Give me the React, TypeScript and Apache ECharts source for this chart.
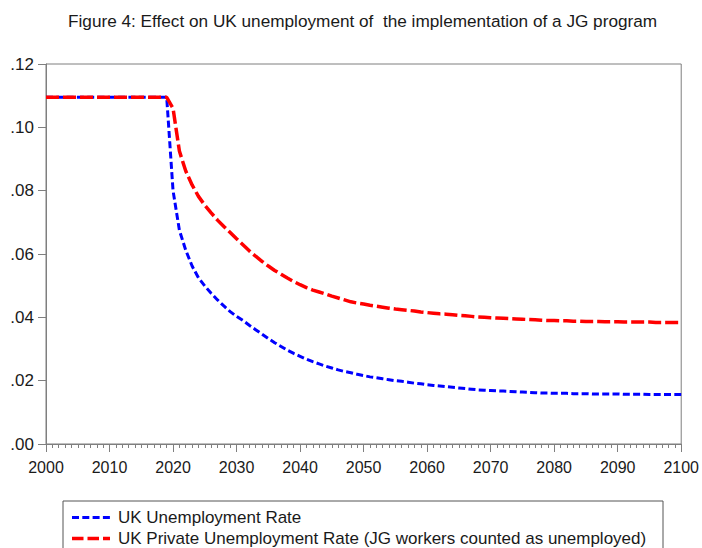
import React, { useEffect, useRef } from "react";
import * as echarts from "echarts";

const TITLE = "Figure 4: Effect on UK unemployment of  the implementation of a JG program";
const SERIES_NAMES = [
  "UK Unemployment Rate",
  "UK Private Unemployment Rate (JG workers counted as unemployed)",
];
const START_YEAR = 2000;

// 2000..2019 flat, then 2020..2100
const ukUnemployment: number[] = [
  0.1095, 0.1095, 0.1095, 0.1095, 0.1095, 0.1095, 0.1095, 0.1095, 0.1095, 0.1095,
  0.1095, 0.1095, 0.1095, 0.1095, 0.1095, 0.1095, 0.1095, 0.1095, 0.1095, 0.1095,
  // 2020-2029
  0.080, 0.0675, 0.0612, 0.0562, 0.0525, 0.0499, 0.0476, 0.0455, 0.0436, 0.0418,
  // 2030-2039
  0.0403, 0.039, 0.0375, 0.0361, 0.0347, 0.0333, 0.032, 0.0308, 0.0296, 0.0286,
  // 2040-2049
  0.0277, 0.0268, 0.026, 0.0253, 0.0246, 0.024, 0.0234, 0.0229, 0.0225, 0.022,
  // 2050-2059
  0.0216, 0.0212, 0.0209, 0.0206, 0.0203, 0.02, 0.0198, 0.0195, 0.0192, 0.019,
  // 2060-2069
  0.0187, 0.0185, 0.0183, 0.0181, 0.0179, 0.0177, 0.0175, 0.0173, 0.0171, 0.017,
  // 2070-2079
  0.0169, 0.0168, 0.0167, 0.0166, 0.0165, 0.0164, 0.0163, 0.0162, 0.0161, 0.0161,
  // 2080-2089
  0.016, 0.016, 0.016, 0.0159, 0.0159, 0.0159, 0.0158, 0.0158, 0.0158, 0.0158,
  // 2090-2100
  0.0158, 0.0157, 0.0157, 0.0157, 0.0157, 0.0156, 0.0156, 0.0156, 0.0156, 0.0156, 0.0156,
];

const ukPrivateUnemployment: number[] = [
  0.1095, 0.1095, 0.1095, 0.1095, 0.1095, 0.1095, 0.1095, 0.1095, 0.1095, 0.1095,
  0.1095, 0.1095, 0.1095, 0.1095, 0.1095, 0.1095, 0.1095, 0.1095, 0.1095, 0.1095,
  // 2020-2029
  0.106, 0.0925, 0.0862, 0.0818, 0.0782, 0.0754, 0.073, 0.0707, 0.0687, 0.0668,
  // 2030-2039
  0.0648, 0.0629, 0.061, 0.0593, 0.0577, 0.0562, 0.0548, 0.0536, 0.0524, 0.0513,
  // 2040-2049
  0.0503, 0.0494, 0.0486, 0.048, 0.0474, 0.0467, 0.0461, 0.0455, 0.0449, 0.0445,
  // 2050-2059
  0.0442, 0.0438, 0.0435, 0.0432, 0.0429, 0.0426, 0.0424, 0.0422, 0.042, 0.0417,
  // 2060-2069
  0.0415, 0.0413, 0.0411, 0.041, 0.0408, 0.0406, 0.0405, 0.0403, 0.0401, 0.04,
  // 2070-2079
  0.0399, 0.0398, 0.0397, 0.0396, 0.0395, 0.0394, 0.0393, 0.0392, 0.0391, 0.039,
  // 2080-2089
  0.039, 0.0389, 0.0389, 0.0388, 0.0388, 0.0387, 0.0387, 0.0387, 0.0386, 0.0386,
  // 2090-2100
  0.0386, 0.0385, 0.0385, 0.0385, 0.0385, 0.0385, 0.0384, 0.0384, 0.0384, 0.0384, 0.0384,
];

const toPairs = (vals: number[]) => vals.map((v, i) => [START_YEAR + i, v]);

const FONT = "Liberation Sans, Arial, sans-serif";
const TEXT_COLOR = "#1a1a1a";
const AXIS_COLOR = "#7f7f7f";
const BLUE = "#0000ff";
const RED = "#ff0000";
const BLUE_DASH = [7, 3.3];
const RED_DASH = [11.5, 4];

export default function App() {
  const ref = useRef<HTMLDivElement>(null);
  useEffect(() => {
    if (!ref.current) return;
    const chart = echarts.init(ref.current, undefined, { renderer: "svg" });
    chart.setOption({
      animation: false,
      backgroundColor: "#ffffff",
      title: {
        text: TITLE,
        left: 63,
        top: 7,
        textStyle: { fontFamily: FONT, fontSize: 17.2, fontWeight: "normal", color: TEXT_COLOR },
      },
      grid: {
        left: 46,
        right: 19,
        top: 64,
        bottom: 104,
        show: true,
        borderColor: AXIS_COLOR,
        borderWidth: 1,
      },
      graphic: [
        {
          type: "rect",
          shape: { x: 63, y: 501, width: 600, height: 70 },
          style: { fill: "#ffffff", stroke: "#555555", lineWidth: 1 },
        },
        {
          type: "line",
          shape: { x1: 72, y1: 517.5, x2: 110, y2: 517.5 },
          style: { stroke: BLUE, lineWidth: 3, lineDash: BLUE_DASH },
        },
        {
          type: "text",
          x: 118,
          y: 517.5,
          style: {
            text: SERIES_NAMES[0],
            fontFamily: FONT,
            fontSize: 17,
            fill: TEXT_COLOR,
            verticalAlign: "middle",
            align: "left",
          },
        },
        {
          type: "line",
          shape: { x1: 72, y1: 538.5, x2: 110, y2: 538.5 },
          style: { stroke: RED, lineWidth: 3.5, lineDash: RED_DASH },
        },
        {
          type: "text",
          x: 118,
          y: 538.5,
          style: {
            text: SERIES_NAMES[1],
            fontFamily: FONT,
            fontSize: 17,
            fill: TEXT_COLOR,
            verticalAlign: "middle",
            align: "left",
          },
        },
      ],
      xAxis: {
        type: "value",
        min: 2000,
        max: 2100,
        interval: 10,
        axisLine: { show: true, lineStyle: { color: AXIS_COLOR, width: 1 } },
        axisTick: { show: true, length: 8, lineStyle: { color: AXIS_COLOR } },
        minorTick: { show: true, splitNumber: 10, length: 4, lineStyle: { color: AXIS_COLOR } },
        splitLine: { show: false },
        axisLabel: {
          margin: 15,
          fontFamily: FONT,
          fontSize: 16,
          color: TEXT_COLOR,
          formatter: (v: number) => String(Math.round(v)),
        },
      },
      yAxis: {
        type: "value",
        min: 0,
        max: 0.12,
        interval: 0.02,
        axisLine: { show: true, lineStyle: { color: AXIS_COLOR, width: 1 } },
        axisTick: { show: true, length: 8, lineStyle: { color: AXIS_COLOR } },
        splitLine: { show: false },
        axisLabel: {
          margin: 12,
          fontFamily: FONT,
          fontSize: 17,
          color: TEXT_COLOR,
          formatter: (v: number) => v.toFixed(2).replace(/^0/, ""),
        },
      },
      series: [
        {
          name: SERIES_NAMES[0],
          type: "line",
          data: toPairs(ukUnemployment),
          showSymbol: false,
          symbol: "none",
          color: BLUE,
          lineStyle: { color: BLUE, width: 3, type: BLUE_DASH },
        },
        {
          name: SERIES_NAMES[1],
          type: "line",
          data: toPairs(ukPrivateUnemployment),
          showSymbol: false,
          symbol: "none",
          color: RED,
          lineStyle: { color: RED, width: 3.5, type: [13, 4] },
        },
      ],
    });
    return () => chart.dispose();
  }, []);
  return (
    <div
      ref={ref}
      style={{ position: "fixed", left: 0, top: 0, width: 702, height: 548, background: "#fff" }}
    />
  );
}
